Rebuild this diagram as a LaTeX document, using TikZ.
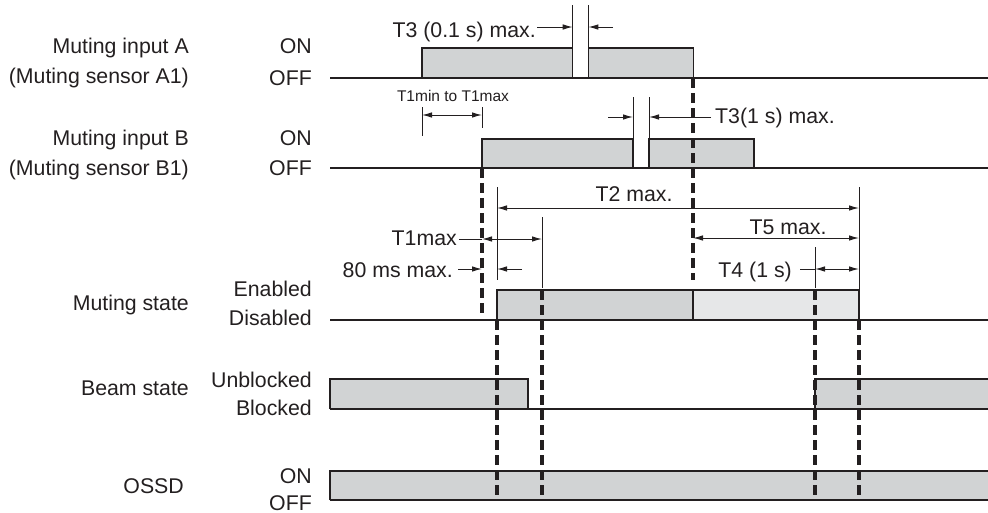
\documentclass[tikz,border=0pt]{standalone}
\usepackage{fontspec}
\setmainfont{Liberation Sans}
\usetikzlibrary{arrows.meta}
\definecolor{ink}{HTML}{231F20}
\definecolor{pulsedark}{HTML}{D1D3D4}
\definecolor{pulselight}{HTML}{E6E7E8}
\begin{document}
\begin{tikzpicture}[x=1pt,y=-1pt,
  lbl/.style={inner sep=0pt, font=\fontsize{21.3}{24}\selectfont, text=ink},
  smalllbl/.style={inner sep=0pt, font=\fontsize{15.5}{18}\selectfont, text=ink},
  sigline/.style={draw=ink, line width=2.3pt},
  pulse/.style={fill=pulsedark, draw=ink, line width=1.2pt},
  dimline/.style={draw=ink, line width=1pt},
  dimarrow/.style={draw=ink, line width=1pt, -{Latex[length=10pt,width=5.5pt]}},
  dimboth/.style={draw=ink, line width=1pt, {Latex[length=10pt,width=5.5pt]}-{Latex[length=10pt,width=5.5pt]}},
  marker/.style={draw=ink, line width=3.3pt, dash pattern=on 10pt off 5pt},
]
\useasboundingbox (0,0) rectangle (988,512);

% ---------- pulses ----------
\filldraw[pulse] (422,78) -- (422,48) -- (572.7,48) -- (572.7,78);
\filldraw[pulse] (588.3,78) -- (588.3,48) -- (693.3,48) -- (693.3,78);
\filldraw[pulse] (482,168) -- (482,139) -- (633,139) -- (633,168);
\filldraw[pulse] (649,168) -- (649,139) -- (754,139) -- (754,168);
\filldraw[pulse] (497,320) -- (497,290) -- (693,290) -- (693,320);
\filldraw[pulse, fill=pulselight] (693,320) -- (693,290) -- (859,290) -- (859,320);
\filldraw[pulse] (330,409) -- (330,379) -- (528,379) -- (528,409);
\fill[pulsedark] (815,379) rectangle (988,409);
\draw[pulse, fill=none] (815,409) -- (815,379) -- (988,379);
\fill[pulsedark] (330,471) rectangle (988,500);
\draw[pulse, fill=none] (330,500) -- (330,471) -- (988,471);

% ---------- signal base lines ----------
\coordinate (lA0) at (330,78);  \coordinate (lA1) at (988,78);
\coordinate (lB0) at (330,168); \coordinate (lB1) at (988,168);
\coordinate (lM0) at (330,320); \coordinate (lM1) at (988,320);
\coordinate (lS0) at (330,409); \coordinate (lS1) at (988,409);
\coordinate (lO0) at (330,500); \coordinate (lO1) at (988,500);
\draw[sigline] (lA0) -- (lA1);
\draw[sigline] (lB0) -- (lB1);
\draw[sigline] (lM0) -- (lM1);
\draw[sigline] (lS0) -- (lS1);
\draw[sigline] (lO0) -- (lO1);

% ---------- extension lines ----------
\draw[dimline] (572.7,48) -- (572.7,5);
\draw[dimline] (588.3,48) -- (588.3,5);
\draw[dimline] (633,139) -- (633,97);
\draw[dimline] (649,139) -- (649,97);
\draw[dimline] (422,107) -- (422,136);
\draw[dimline] (482,107) -- (482,128);
\draw[dimline] (497,187) -- (497,280);
\draw[dimline] (542,217) -- (542,288);
\draw[dimline] (859,187) -- (859,290);
\draw[dimline] (815,247) -- (815,288);

% ---------- dimension arrows ----------
\coordinate (t3aS) at (537,27);   \coordinate (t3aL) at (572.7,27);
\coordinate (t3aE) at (613,27);   \coordinate (t3aR) at (588.3,27);
\draw[dimarrow] (t3aS) -- (t3aL);
\draw[dimarrow] (t3aE) -- (t3aR);

\coordinate (t1a) at (422,115);   \coordinate (t1b) at (482,115);
\draw[dimboth] (t1a) -- (t1b);

\coordinate (t3bS) at (608,117);  \coordinate (t3bL) at (633,117);
\coordinate (t3bE) at (711,117);  \coordinate (t3bR) at (649,117);
\draw[dimarrow] (t3bS) -- (t3bL);
\draw[dimarrow] (t3bE) -- (t3bR);

\coordinate (t2a) at (497,208);   \coordinate (t2b) at (859,208);
\draw[dimboth] (t2a) -- (t2b);

\coordinate (t5a) at (693,238);   \coordinate (t5b) at (859,238);
\draw[dimboth] (t5a) -- (t5b);

\coordinate (t4s) at (800,269);   \coordinate (t4a) at (815,269);
\coordinate (t4b) at (859,269);
\draw[dimline] (t4s) -- (t4a);
\draw[dimboth] (t4a) -- (t4b);

\coordinate (t1ms) at (459,239);  \coordinate (t1ma) at (482,239);
\coordinate (t1mb) at (542,239);
\draw[dimline] (t1ms) -- (t1ma);
\draw[dimboth] (t1ma) -- (t1mb);

\coordinate (m80s) at (458,269);  \coordinate (m80a) at (482,269);
\coordinate (m80e) at (522,269);  \coordinate (m80b) at (497,269);
\draw[dimarrow] (m80s) -- (m80a);
\draw[dimarrow] (m80e) -- (m80b);

% ---------- dashed markers ----------
\draw[marker] (693,78) -- (693,280);
\draw[marker] (482,168) -- (482,316);
\draw[marker] (497,320) -- (497,500);
\draw[marker] (542,290) -- (542,495);
\draw[marker] (815,290) -- (815,495);
\draw[marker] (859,320) -- (859,500);

% ---------- timing labels ----------
\node[lbl, anchor=base east] (lt3a) at (536,37) {T3 (0.1 s) max.};
\node[smalllbl, anchor=base] (lt1) at (453,101) {T1min to T1max};
\node[lbl, anchor=base west] (lt3b) at (715,123) {T3(1 s) max.};
\node[lbl, anchor=base] (lt2) at (634,201) {T2 max.};
\node[lbl, anchor=base] (lt5) at (788,234) {T5 max.};
\node[lbl, anchor=base east] (lt4) at (792,277) {T4 (1 s)};
\node[lbl, anchor=base east] (lt1m) at (457,245) {T1max};
\node[lbl, anchor=base east] (l80) at (453,277) {80 ms max.};

% ---------- signal names ----------
\node[lbl, anchor=base east] (nA)  at (189,53)  {Muting input A};
\node[lbl, anchor=base east] (nA1) at (189,83)  {(Muting sensor A1)};
\node[lbl, anchor=base east] (nB)  at (189,145) {Muting input B};
\node[lbl, anchor=base east] (nB1) at (189,175) {(Muting sensor B1)};
\node[lbl, anchor=base east] (nM)  at (189,310) {Muting state};
\node[lbl, anchor=base east] (nS)  at (189,395) {Beam state};
\node[lbl, anchor=base east] (nO)  at (184,493) {OSSD};

% ---------- state names ----------
\node[lbl, anchor=base east] (sAon)  at (312,53)  {ON};
\node[lbl, anchor=base east] (sAoff) at (312,85)  {OFF};
\node[lbl, anchor=base east] (sBon)  at (312,145) {ON};
\node[lbl, anchor=base east] (sBoff) at (312,175) {OFF};
\node[lbl, anchor=base east] (sMen)  at (312,296) {Enabled};
\node[lbl, anchor=base east] (sMdis) at (312,325) {Disabled};
\node[lbl, anchor=base east] (sSun)  at (312,387) {Unblocked};
\node[lbl, anchor=base east] (sSbl)  at (312,415) {Blocked};
\node[lbl, anchor=base east] (sOon)  at (312,483) {ON};
\node[lbl, anchor=base east] (sOoff) at (312,510) {OFF};
\end{tikzpicture}
\end{document}
